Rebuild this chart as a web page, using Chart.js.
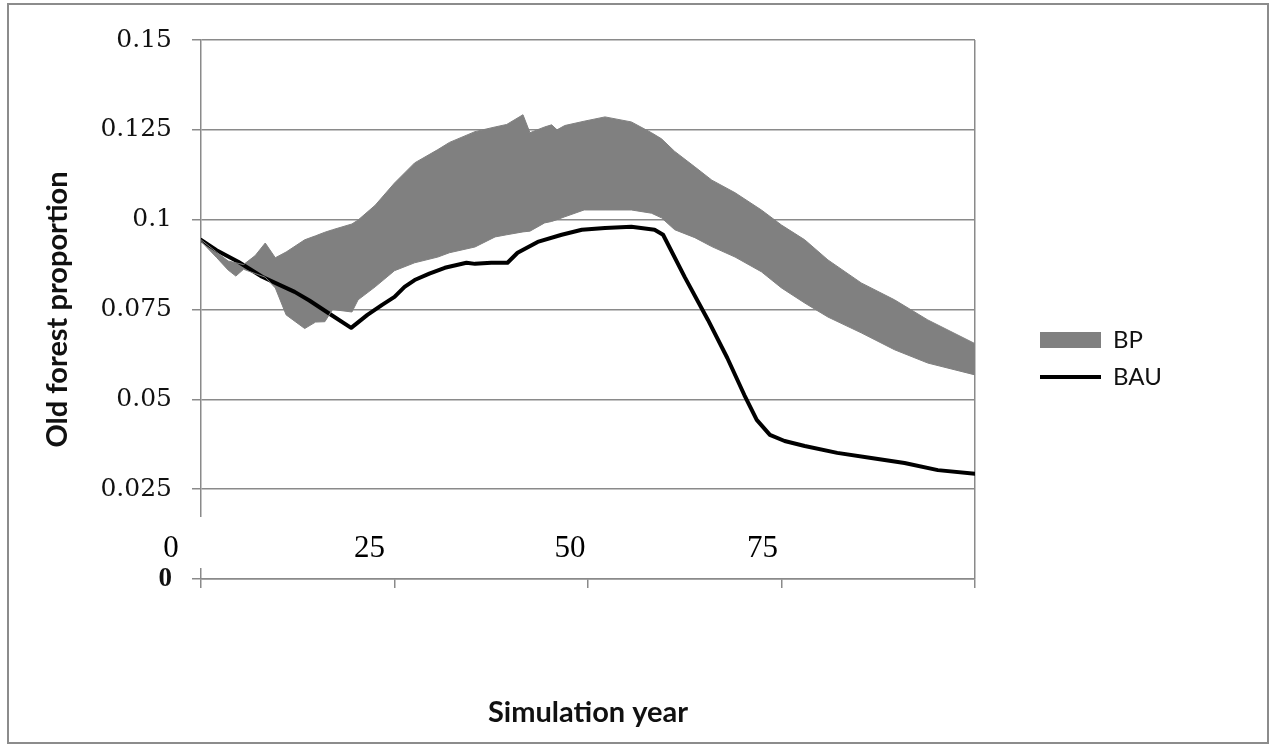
<!DOCTYPE html>
<html>
<head>
<meta charset="utf-8">
<title>Old forest proportion</title>
<script src="https://cdn.jsdelivr.net/npm/chart.js@4.4.1/dist/chart.umd.min.js"></script>
<style>
  html, body { margin: 0; padding: 0; background: #fff; overflow: hidden; }
  #wrap { position: absolute; left: 0; top: 0; width: 1273px; height: 748px; }
  #frame { position: absolute; left: 7px; top: 3px; width: 1262px; height: 741px; border: 2px solid #8c8c8c; box-sizing: border-box; pointer-events: none; }
</style>
</head>
<body>
<div id="wrap"><canvas id="chart"></canvas></div>
<div id="frame"></div>
<script>
// BP range (upper / lower bound) sampled per simulation year
const years = [0, 2, 3.5, 4.5, 5.5, 7, 8.3, 9.6, 11, 13.4, 14.8, 16, 17, 19.5, 20.3, 22.5, 25, 27.6, 30.6, 32.1,
  35.4, 38, 39.5, 41.6, 42.5, 44.4, 45.3, 46, 47, 49.5, 52.2, 55.6, 58.2, 59.5, 61.2, 63.8, 66, 69, 72.4, 75,
  78, 81, 85.3, 89.6, 93.9, 100];
const bpUpper = [0.0944, 0.0910, 0.0885, 0.0880, 0.0875, 0.0900, 0.0935, 0.0894, 0.0910, 0.0944, 0.0955, 0.0965,
  0.0972, 0.0988, 0.0999, 0.1040, 0.1102, 0.1158, 0.1195, 0.1215, 0.1245, 0.1258, 0.1265, 0.1292, 0.1242, 0.1258,
  0.1264, 0.1250, 0.1262, 0.1274, 0.1286, 0.1272, 0.1242, 0.1225, 0.1190, 0.1147, 0.1110, 0.1075, 0.1027, 0.0985,
  0.0944, 0.0888, 0.0824, 0.0777, 0.0721, 0.0655];
const bpLower = [0.0940, 0.0895, 0.0860, 0.0843, 0.0862, 0.0850, 0.0840, 0.0810, 0.0735, 0.0697, 0.0715, 0.0716,
  0.0750, 0.0743, 0.0777, 0.0813, 0.0858, 0.0880, 0.0896, 0.0908, 0.0924, 0.0952, 0.0958, 0.0966, 0.0968, 0.0991,
  0.0995, 0.1000, 0.1008, 0.1027, 0.1027, 0.1027, 0.1018, 0.1005, 0.0972, 0.0950, 0.0925, 0.0896, 0.0855, 0.0810,
  0.0768, 0.0729, 0.0685, 0.0638, 0.0601, 0.0568];

// BAU scenario
const bauYears = [0, 2, 4.8, 7.9, 10, 12.1, 14, 16.4, 19.4, 21.5, 23.4, 25, 26.3, 27.6, 29.5, 31.5, 34.3, 35.4,
  37.5, 39.6, 40.9, 43.5, 46.6, 49.2, 52.2, 55.6, 58.6, 59.7, 62.5, 65.5, 68, 70.2, 71.8, 73.5, 75.4, 78, 82.2,
  86.6, 90.9, 95.2, 100];
const bau = [0.0944, 0.0915, 0.0883, 0.0841, 0.0820, 0.0799, 0.0775, 0.0741, 0.0699, 0.0735, 0.0763, 0.0785,
  0.0813, 0.0832, 0.0850, 0.0866, 0.0880, 0.0877, 0.0880, 0.0880, 0.0908, 0.0938, 0.0958, 0.0972, 0.0977, 0.0980,
  0.0972, 0.0958, 0.0840, 0.0721, 0.0615, 0.0512, 0.0443, 0.0401, 0.0384, 0.0370, 0.0351, 0.0337, 0.0323, 0.0303,
  0.0293];

// year labels typed under the plot
const yearLabels = ['0', '25', '50', '75'];
const yearLabelShift = [-30, -25, -18, -19];

const GRID = '#8a8a8a';
const BAND = '#808080';

const toPoints = (xs, ys) => xs.map((x, i) => ({ x: x, y: ys[i] }));

// white strip with the year labels over the lower part of the axis
const yearStrip = {
  id: 'yearStrip',
  afterDraw(chart) {
    const ctx = chart.ctx;
    const xs = chart.scales.x;
    ctx.save();
    ctx.fillStyle = '#fff';
    ctx.fillRect(xs.left - 50, 517, 640, 51);
    ctx.fillStyle = '#000';
    ctx.font = '31px "Liberation Serif"';
    ctx.textAlign = 'center';
    ctx.textBaseline = 'alphabetic';
    yearLabels.forEach((t, i) => {
      ctx.fillText(t, xs.getPixelForValue(Number(t)) + yearLabelShift[i], 557);
    });
    ctx.restore();
  }
};

// move the legend next to the plot and give it room for the text
const legendSpot = {
  id: 'legendSpot',
  afterLayout(chart) {
    const lg = chart.legend;
    lg.left = 1027;
    lg.width = 220;
    lg.right = lg.left + lg.width;
    lg.top -= 32;
    lg.bottom -= 32;
  }
};

new Chart(document.getElementById('chart'), {
  type: 'line',
  data: {
    datasets: [
      {
        label: 'BP',
        data: toPoints(years, bpUpper),
        borderColor: BAND,
        backgroundColor: BAND,
        borderWidth: 1,
        fill: '+1',
        pointRadius: 0,
        pointStyle: 'rect',
        pointBorderWidth: 0,
        tension: 0
      },
      {
        label: 'BP low',
        data: toPoints(years, bpLower),
        borderColor: BAND,
        backgroundColor: BAND,
        borderWidth: 1,
        fill: false,
        pointRadius: 0,
        tension: 0
      },
      {
        label: 'BAU',
        data: toPoints(bauYears, bau),
        borderColor: '#000',
        backgroundColor: '#000',
        borderWidth: 4,
        borderJoinStyle: 'round',
        borderCapStyle: 'round',
        fill: false,
        pointRadius: 0,
        pointStyle: 'line',
        pointBorderColor: '#000',
        pointBorderWidth: 4,
        tension: 0
      }
    ]
  },
  options: {
    responsive: true,
    maintainAspectRatio: false,
    animation: false,
    layout: { padding: { left: 0, top: 40, right: 198, bottom: 7 } },
    plugins: {
      filler: { drawTime: 'beforeDatasetsDraw' },
      tooltip: { enabled: false },
      legend: {
        position: 'right',
        maxWidth: 100,
        labels: {
          usePointStyle: true,
          pointStyleWidth: 61,
          boxHeight: 16,
          padding: 13,
          color: '#111',
          font: { family: 'Lato', size: 24 },
          filter: item => item.text !== 'BP low'
        }
      }
    },
    scales: {
      x: {
        type: 'linear',
        min: 0,
        max: 100,
        afterFit: s => { s.height = 748 - 579 - 7; },
        border: { display: true, color: GRID, width: 1.5 },
        grid: {
          color: c => (c.tick && c.tick.value === 100 ? GRID : 'rgba(0,0,0,0)'),
          lineWidth: 1.5,
          tickColor: GRID,
          tickLength: 9
        },
        ticks: { stepSize: 25, display: false },
        title: {
          display: true,
          text: 'Simulation year',
          color: '#111',
          font: { family: 'Lato', size: 29, weight: 'bold' },
          padding: { top: 0, bottom: 11 }
        }
      },
      y: {
        min: 0,
        max: 0.15,
        afterFit: s => { s.width = 201; },
        border: { display: true, color: GRID, width: 1.5 },
        grid: { color: GRID, lineWidth: 1.5, tickColor: GRID, tickLength: 9 },
        ticks: {
          stepSize: 0.025,
          padding: 20,
          color: '#111',
          callback: v => String(+v.toFixed(3)),
          font: c => (c.tick && c.tick.value === 0
            ? { family: 'Liberation Serif', size: 27, weight: 'bold' }
            : { family: 'DejaVu Serif', size: 25 })
        },
        title: {
          display: true,
          text: 'Old forest proportion',
          color: '#111',
          font: { family: 'Lato', size: 29, weight: 'bold' },
          padding: { top: 40, bottom: 0 }
        }
      }
    }
  },
  plugins: [yearStrip, legendSpot]
});
</script>
</body>
</html>
